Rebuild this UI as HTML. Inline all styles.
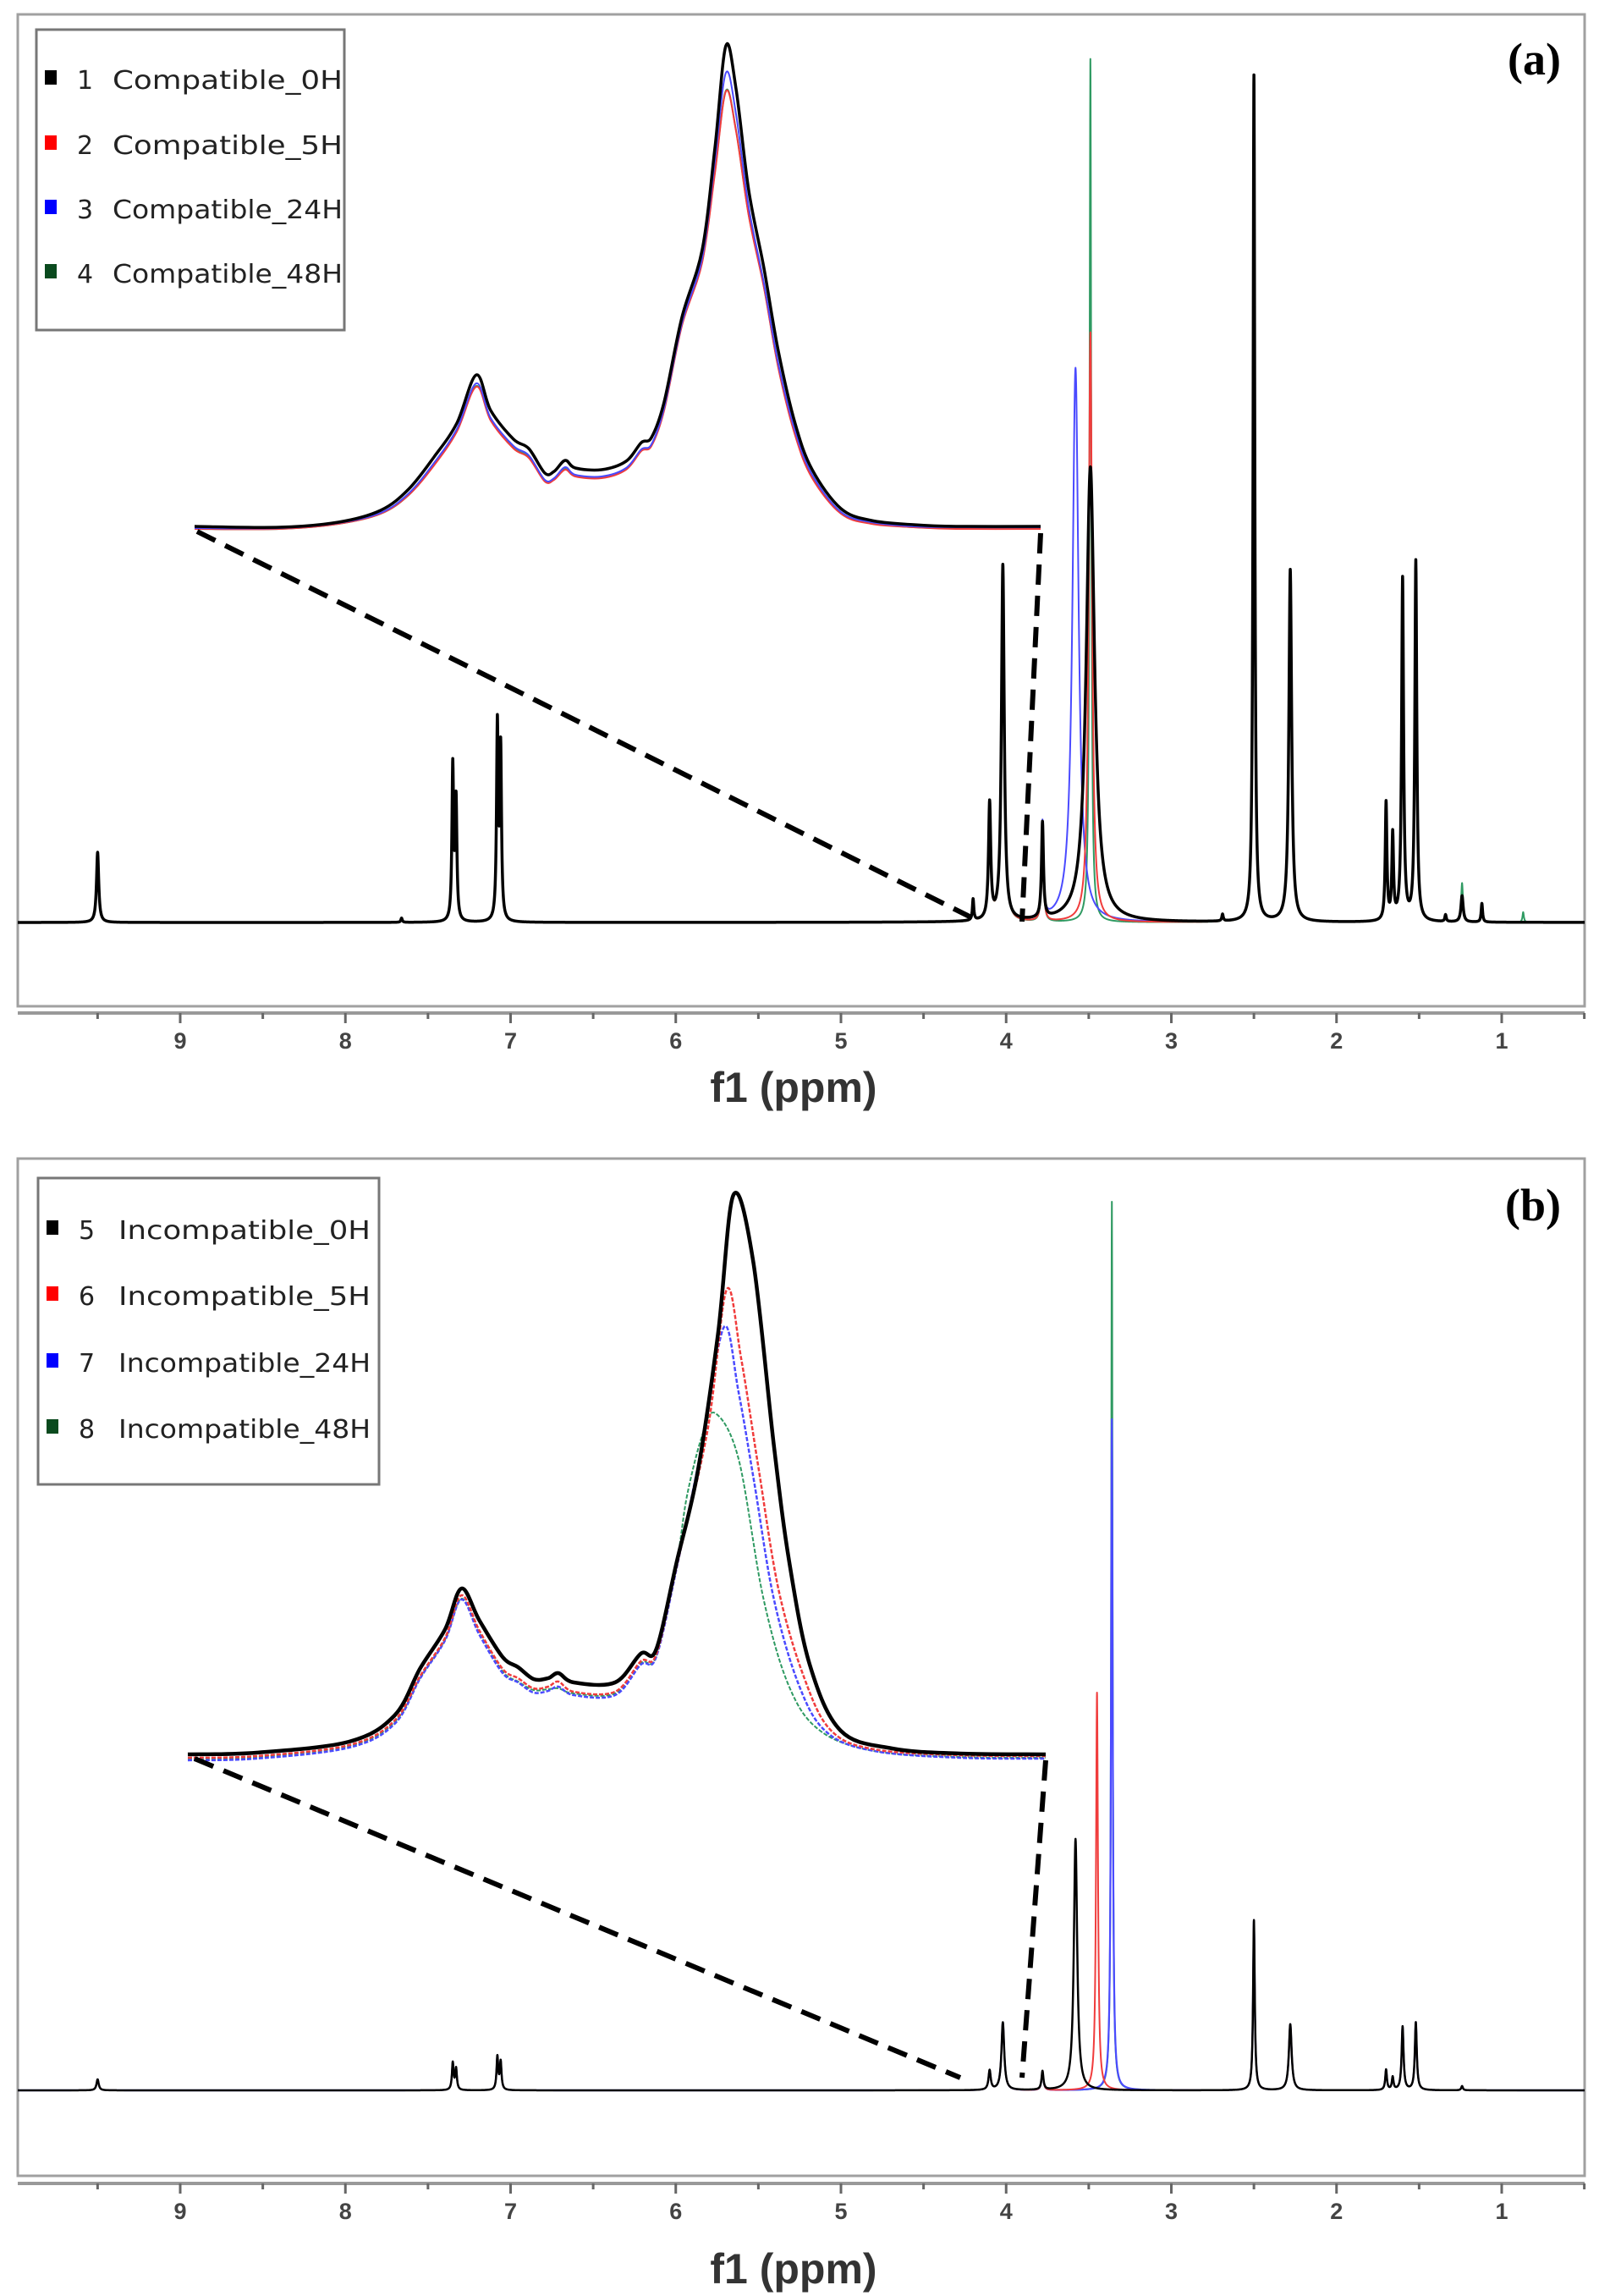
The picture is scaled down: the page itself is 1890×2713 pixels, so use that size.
<!DOCTYPE html>
<html><head><meta charset="utf-8">
<style>
html,body{margin:0;padding:0;background:#fff;}
svg{display:block;}
.tick{font-family:"Liberation Sans",sans-serif;font-size:27px;font-weight:bold;fill:#444;}
.xt{font-family:"Liberation Sans",sans-serif;font-size:50px;font-weight:bold;fill:#333;}
.lg{font-family:"DejaVu Sans","Liberation Sans",sans-serif;font-size:30px;fill:#222;}
.pl{font-family:"Liberation Serif",serif;font-size:54px;font-weight:bold;fill:#000;}
</style></head>
<body>
<svg id="fig" width="1890" height="2713" viewBox="0 0 1890 2713" xmlns="http://www.w3.org/2000/svg">
<defs>
<clipPath id="clipA"><rect x="21" y="17" width="1852" height="1172"/></clipPath>
<clipPath id="clipB"><rect x="21" y="1369" width="1852" height="1202"/></clipPath>
</defs>
<g id="panelA"></g>
<g id="panelB"></g>
</svg>
<script>
// ---------- Data: main spectra peaks [ppm, height(px), half-width(ppm)] ----------
const tickValues = [9,8,7,6,5,4,3,2,1];
const tickLabels = ["9","8","7","6","5","4","3","2","1"];

const commonA = [[9.5,83,.008],[7.66,5,.005],[7.35,182,.006],[7.33,140,.006],[7.08,229,.006],[7.06,200,.006],[4.20,25,.005],[4.10,137,.008],[4.02,420,.01],[3.78,113,.007],[2.69,8,.005],[2.50,1000,.006],[2.28,416,.01],[1.70,139,.006],[1.66,100,.006],[1.60,404,.007],[1.52,425,.007],[1.34,8,.005],[1.24,31,.008],[1.12,22,.005]];
const blackA = [[3.49,538,.03]];
const redA = [[3.49,697,.012]];
const blueA = [[3.58,655,.022]];
const greenA = [[3.49,1020,.006],[1.24,15,.005],[0.87,12,.005]];

const commonB = [[9.5,13,.008],[7.35,32,.006],[7.33,25,.006],[7.08,39,.006],[7.06,33,.006],[4.10,23,.008],[4.02,80,.01],[3.78,22,.007],[2.50,201,.006],[2.28,78,.01],[1.70,24,.006],[1.66,15,.006],[1.60,75,.007],[1.52,80,.007],[1.24,5,.006]];
const blackB = [[3.58,297,.012]];
const redB = [[3.45,470,.007]];
const blueB = [[3.36,793,.006]];
const greenB = [[3.36,1050,.005]];

// ---------- Data: inset curves [fraction across inset, height(px)] ----------
const insetA_black = [[0,3],[0.1,2],[0.17,8],[0.22,22],[0.253,47],[0.283,85],[0.31,125],[0.333,182],[0.35,140],[0.377,106],[0.395,95],[0.414,66],[0.425,68],[0.438,81],[0.45,72],[0.481,70],[0.51,80],[0.528,102],[0.54,108],[0.555,150],[0.576,250],[0.60,330],[0.615,450],[0.628,571],[0.64,520],[0.655,400],[0.673,308],[0.69,210],[0.71,124],[0.73,70],[0.764,24],[0.8,10],[0.85,5],[0.9,3],[1,3]];
const insetA_red = [[0,0],[0.1,0],[0.17,6],[0.22,18],[0.253,40],[0.283,75],[0.31,115],[0.333,168],[0.35,128],[0.377,95],[0.395,84],[0.414,56],[0.425,58],[0.438,70],[0.45,62],[0.481,60],[0.51,70],[0.528,92],[0.54,98],[0.555,140],[0.576,240],[0.60,315],[0.615,420],[0.628,517],[0.64,470],[0.655,370],[0.673,285],[0.69,190],[0.71,110],[0.73,60],[0.764,18],[0.8,6],[0.85,2],[0.9,0],[1,0]];
const insetA_blue = [[0,1],[0.1,1],[0.17,7],[0.22,19],[0.253,42],[0.283,78],[0.31,118],[0.333,172],[0.35,131],[0.377,98],[0.395,87],[0.414,58],[0.425,60],[0.438,73],[0.45,64],[0.481,62],[0.51,72],[0.528,94],[0.54,100],[0.555,143],[0.576,243],[0.60,320],[0.615,435],[0.628,539],[0.64,490],[0.655,380],[0.673,290],[0.69,195],[0.71,115],[0.73,64],[0.764,20],[0.8,8],[0.85,3],[0.9,2],[1,2]];
const insetA_green = [[0,0],[0.1,0],[0.17,6],[0.22,18],[0.253,40],[0.283,76],[0.31,116],[0.333,169],[0.35,129],[0.377,96],[0.395,85],[0.414,57],[0.425,59],[0.438,71],[0.45,63],[0.481,61],[0.51,71],[0.528,93],[0.54,99],[0.555,141],[0.576,241],[0.60,316],[0.615,422],[0.628,518],[0.64,471],[0.655,371],[0.673,286],[0.69,191],[0.71,111],[0.73,61],[0.764,19],[0.8,7],[0.85,2],[0.9,1],[1,1]];

const insetB_black = [[0,2],[0.08,4],[0.188,17],[0.241,48],[0.271,104],[0.30,150],[0.319,198],[0.34,160],[0.367,117],[0.385,105],[0.403,91],[0.42,92],[0.432,98],[0.45,87],[0.498,87],[0.528,121],[0.546,126],[0.57,230],[0.594,334],[0.618,499],[0.636,663],[0.659,585],[0.683,368],[0.701,230],[0.725,108],[0.761,30],[0.821,9],[0.9,3],[1,2]];
const insetB_red = [[0,-2],[0.08,0],[0.188,13],[0.241,42],[0.271,95],[0.30,140],[0.319,190],[0.34,148],[0.367,103],[0.385,92],[0.403,80],[0.42,82],[0.432,88],[0.45,76],[0.498,76],[0.528,112],[0.546,120],[0.57,225],[0.606,386],[0.628,551],[0.645,470],[0.665,342],[0.689,195],[0.719,91],[0.75,30],[0.8,8],[0.9,1],[1,0]];
const insetB_blue = [[0,-5],[0.08,-3],[0.188,10],[0.241,38],[0.271,92],[0.30,137],[0.319,185],[0.34,143],[0.367,98],[0.385,87],[0.403,75],[0.42,77],[0.432,82],[0.45,72],[0.498,72],[0.528,108],[0.546,117],[0.57,223],[0.60,370],[0.625,507],[0.642,430],[0.66,325],[0.683,186],[0.713,82],[0.745,28],[0.8,6],[0.9,-2],[1,-3]];
const insetB_green = [[0,-3],[0.08,-1],[0.188,12],[0.241,40],[0.271,93],[0.30,138],[0.319,186],[0.34,145],[0.367,100],[0.385,88],[0.403,78],[0.42,79],[0.432,80],[0.45,74],[0.498,74],[0.528,110],[0.546,118],[0.57,230],[0.582,308],[0.6,380],[0.615,405],[0.642,351],[0.671,186],[0.701,82],[0.737,30],[0.8,6],[0.9,-1],[1,-2]];

// ---------- Axis functions ----------
const X0 = 1775, PX_PER_PPM = 195.25;
function xOf(p){ return X0 + (1 - p) * PX_PER_PPM; }
function pOf(x){ return 1 - (x - X0) / PX_PER_PPM; }
function spec(peaks, p){ let s = 0; for (const [c,h,w] of peaks){ const d=(p-c)/w; s += h/(1+d*d);} return s; }

const NS = "http://www.w3.org/2000/svg";
function mk(tag, attrs, parent){ const e=document.createElementNS(NS,tag); for(const k in attrs) e.setAttribute(k, attrs[k]); if(parent) parent.appendChild(e); return e; }

function specPath(peaks, baseY){
  const xs = [];
  for (let x = 21; x <= 1873; x += 0.25) xs.push(x);
  peaks.forEach(([c]) => xs.push(xOf(c)));
  xs.sort((a,b)=>a-b);
  let d = "";
  for (const x of xs){
    const y = baseY - spec(peaks, pOf(x));
    d += (d ? "L" : "M") + x.toFixed(2) + " " + y.toFixed(2);
  }
  return d;
}
function smoothPath(pts, x0, x1, baseY){
  const P = pts.map(([f,h]) => [x0 + f*(x1-x0), baseY - h]);
  let d = "M" + P[0][0] + " " + P[0][1];
  for (let i=0;i<P.length-1;i++){
    const p0=P[Math.max(0,i-1)], p1=P[i], p2=P[i+1], p3=P[Math.min(P.length-1,i+2)];
    const c1=[p1[0]+(p2[0]-p0[0])/6, p1[1]+(p2[1]-p0[1])/6];
    const c2=[p2[0]-(p3[0]-p1[0])/6, p2[1]-(p3[1]-p1[1])/6];
    d += "C"+c1[0].toFixed(1)+" "+c1[1].toFixed(1)+" "+c2[0].toFixed(1)+" "+c2[1].toFixed(1)+" "+p2[0].toFixed(1)+" "+p2[1].toFixed(1);
  }
  return d;
}

function buildPanel(g, cfg){
  const frame = mk("rect", {x:21, y:cfg.top, width:1852, height:cfg.bottom-cfg.top, fill:"none", stroke:"#a0a0a0", "stroke-width":3}, g);
  
  
  const ax = mk("g", {}, g);
  
  
  mk("line", {x1:21, x2:1873, y1:cfg.axisY, y2:cfg.axisY, stroke:"#999", "stroke-width":4}, ax);
  for (let p = 9.5; p >= 0.5; p -= 0.5){
    const major = Math.abs(p - Math.round(p)) < 1e-6;
    mk("line", {x1:xOf(p), x2:xOf(p), y1:cfg.axisY, y2:cfg.axisY + (major?12:7), stroke:"#666", "stroke-width":3}, ax);
  }
  tickValues.forEach((v,i) => {
    const t = mk("text", {x:xOf(v), y:cfg.axisY+42, "text-anchor":"middle", class:"tick"}, ax);
    t.textContent = tickLabels[i];
    
    
  });
  const xt = mk("text", {x:938, y:cfg.titleY, "text-anchor":"middle", class:"xt"}, g);
  xt.textContent = "f1 (ppm)";
  
  

  const sg = mk("g", {"clip-path":"url(#"+cfg.clip+")"}, g);
  
  
  cfg.series.forEach(s => {
    const pth = mk("path", {d:specPath(cfg.common.concat(s.peaks), cfg.base), fill:"none", stroke:s.color, "stroke-width":s.w, "stroke-linejoin":"round"}, sg);
    
    
  });

  const ig = mk("g", {}, g);
  
  
  cfg.inset.forEach(s => {
    const pth = mk("path", {d:smoothPath(s.pts, cfg.ix0, cfg.ix1, cfg.ibase), fill:"none", stroke:s.color, "stroke-width":s.w, "stroke-dasharray":s.dash||"none"}, ig);
    
    
  });

  cfg.dashes.forEach(([x1,y1,x2,y2]) => {
    const l = mk("line", {x1, y1, x2, y2, stroke:"#000", "stroke-width":6, "stroke-dasharray":"24 13"}, g);
    
    
  });

  const lg = mk("g", {}, g);
  
  
  mk("rect", {x:cfg.legend[0], y:cfg.legend[1], width:cfg.legend[2], height:cfg.legend[3], fill:"#fff", stroke:"#777", "stroke-width":3}, lg);
  cfg.legendItems.forEach((it,i) => {
    const y = cfg.legendY[i];
    const e = mk("g", {}, lg);
    
    
    mk("rect", {x:cfg.legend[0]+10, y:y-22, width:14, height:17, fill:it.c}, e);
    const n = mk("text", {x:cfg.legend[0]+48, y:y, class:"lg"}, e); n.textContent = it.n;
    const t = mk("text", {x:cfg.legend[0]+cfg.nameOff, y:y, class:"lg", textLength:cfg.textLen, lengthAdjust:"spacingAndGlyphs"}, e); t.textContent = it.t;
  });
  const lab = mk("text", {x:1845, y:cfg.labY, "text-anchor":"end", class:"pl"}, g);
  lab.textContent = cfg.label;
  
  
}

const RED="#f03c3c", BLUE="#4a4aff", GREEN="#2f9a62";

buildPanel(document.getElementById("panelA"), {
  top:17, bottom:1189, axisY:1197, titleY:1302, clip:"clipA", base:1090,
  common: commonA,
  series:[
    {name:"compatible-48h", peaks:greenA, color:GREEN, w:2},
    {name:"compatible-24h", peaks:blueA, color:BLUE, w:2},
    {name:"compatible-5h", peaks:redA, color:RED, w:2},
    {name:"compatible-0h", peaks:blackA, color:"#000", w:3.5}
  ],
  ix0:230, ix1:1230, ibase:625,
  inset:[
    {name:"compatible-48h", pts:insetA_green, color:GREEN, w:2},
    {name:"compatible-5h", pts:insetA_red, color:RED, w:2},
    {name:"compatible-24h", pts:insetA_blue, color:BLUE, w:2},
    {name:"compatible-0h", pts:insetA_black, color:"#000", w:3.5}
  ],
  dashes:[[233,628,1158,1089],[1230,630,1208,1089]],
  legend:[43,35,364,355], legendY:[105,182,258,334], nameOff:90, textLen:272,
  legendItems:[{c:"#000",n:"1",t:"Compatible_0H"},{c:"#f00",n:"2",t:"Compatible_5H"},{c:"#00f",n:"3",t:"Compatible_24H"},{c:"#0a4a1e",n:"4",t:"Compatible_48H"}],
  label:"(a)", labY:88
});

buildPanel(document.getElementById("panelB"), {
  top:1369, bottom:2571, axisY:2580, titleY:2698, clip:"clipB", base:2470,
  common: commonB,
  series:[
    {name:"incompatible-48h", peaks:greenB, color:GREEN, w:2},
    {name:"incompatible-24h", peaks:blueB, color:BLUE, w:2.2},
    {name:"incompatible-5h", peaks:redB, color:RED, w:2},
    {name:"incompatible-0h", peaks:blackB, color:"#000", w:2.5}
  ],
  ix0:222, ix1:1236, ibase:2075,
  inset:[
    {name:"incompatible-48h", pts:insetB_green, color:GREEN, w:2, dash:"5 2"},
    {name:"incompatible-24h", pts:insetB_blue, color:BLUE, w:2.5, dash:"5 2"},
    {name:"incompatible-5h", pts:insetB_red, color:RED, w:2.5, dash:"5 2"},
    {name:"incompatible-0h", pts:insetB_black, color:"#000", w:4.5}
  ],
  dashes:[[230,2078,1135,2455],[1236,2080,1208,2455]],
  legend:[45,1392,403,362], legendY:[1464,1542,1621,1699], nameOff:95, textLen:298,
  legendItems:[{c:"#000",n:"5",t:"Incompatible_0H"},{c:"#f00",n:"6",t:"Incompatible_5H"},{c:"#00f",n:"7",t:"Incompatible_24H"},{c:"#0a4a1e",n:"8",t:"Incompatible_48H"}],
  label:"(b)", labY:1442
});
</script>
</body></html>
